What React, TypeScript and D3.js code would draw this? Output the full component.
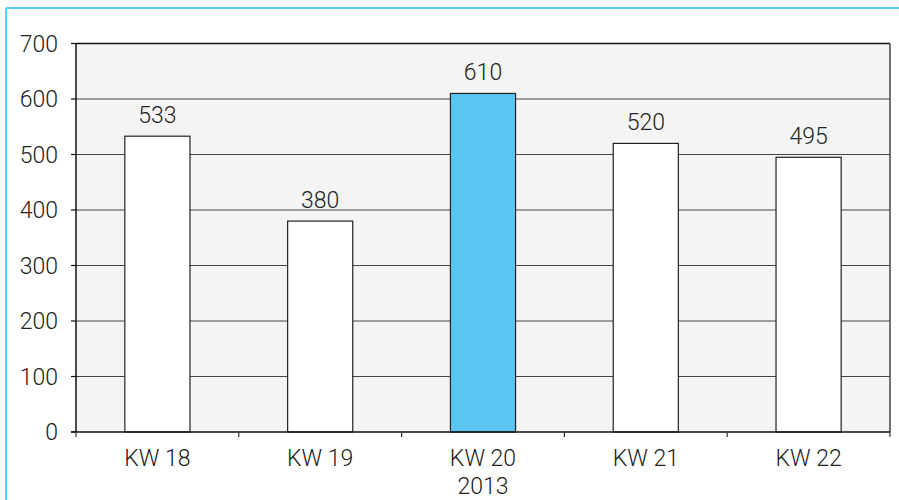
import React from "react";
import * as d3 from "d3";

const categories = ["KW 18", "KW 19", "KW 20", "KW 21", "KW 22"];
const values = [533, 380, 610, 520, 495];
const highlighted = [false, false, true, false, false];
const yTicks = [0, 100, 200, 300, 400, 500, 600, 700];
const subLabel = "2013";

export default function App() {
  const W = 899, H = 500;
  const left = 76, right = 890, top = 43.5, bottom = 432;
  const x = d3.scaleBand<string>().domain(categories).range([left, right]).paddingInner(0).paddingOuter(0);
  const y = d3.scaleLinear().domain([0, 700]).range([bottom, top]);
  const bw = x.bandwidth() * 0.4;
  const font = "Roboto, 'Noto Sans', sans-serif";
  const fs = 23;
  return (
    <svg width={W} height={H} style={{ position: "absolute", left: 0, top: 0, background: "#fff" }}>
      <line x1={6} y1={8} x2={W} y2={8} stroke="#5ccbf3" strokeWidth={2} />
      <line x1={6} y1={8} x2={6} y2={H} stroke="#5ccbf3" strokeWidth={2} />
      <rect x={left} y={top} width={right - left} height={bottom - top} fill="#f4f4f4" />
      {yTicks.slice(1).map((t) => (
        <line key={t} x1={left} x2={right} y1={y(t)} y2={y(t)} stroke={t === 700 ? "#111" : "#444"} strokeWidth={t === 700 ? 1.5 : 1.2} />
      ))}
      <line x1={right} x2={right} y1={top} y2={bottom} stroke="#444" strokeWidth={1.5} />
      {categories.map((c, i) => (
        <g key={c}>
          <rect
            x={x(c)! + (x.bandwidth() - bw) / 2}
            y={y(values[i])}
            width={bw}
            height={bottom - y(values[i])}
            fill={highlighted[i] ? "#5bc5f2" : "#ffffff"}
            stroke="#222"
            strokeWidth={1.2}
          />
          <text
            x={x(c)! + x.bandwidth() / 2}
            y={y(values[i]) - 13}
            textAnchor="middle"
            fontFamily={font}
            fontWeight={300}
            fontSize={fs}
            fill="#222"
          >
            {values[i]}
          </text>
          <text x={x(c)! + x.bandwidth() / 2} y={466} textAnchor="middle" fontFamily={font} fontWeight={300} fontSize={fs} fill="#222">
            {c}
          </text>
          {i === 2 && (
            <text x={x(c)! + x.bandwidth() / 2} y={494} textAnchor="middle" fontFamily={font} fontWeight={300} fontSize={fs} fill="#222">
              {subLabel}
            </text>
          )}
        </g>
      ))}
      <line x1={left} x2={left} y1={top} y2={bottom} stroke="#111" strokeWidth={1.5} />
      <line x1={left - 5} x2={right} y1={bottom} y2={bottom} stroke="#111" strokeWidth={1.5} />
      {yTicks.map((t) => (
        <g key={t}>
          <line x1={left - 5} x2={left} y1={y(t)} y2={y(t)} stroke="#111" strokeWidth={1.2} />
          <text x={58} y={y(t)} dy="0.35em" textAnchor="end" fontFamily={font} fontWeight={300} fontSize={fs} fill="#222">
            {t}
          </text>
        </g>
      ))}
      {d3.range(categories.length + 1).map((i) => {
        const xx = left + i * x.bandwidth();
        return <line key={i} x1={xx} x2={xx} y1={bottom} y2={bottom + 5} stroke="#333" strokeWidth={1.2} />;
      })}
    </svg>
  );
}
